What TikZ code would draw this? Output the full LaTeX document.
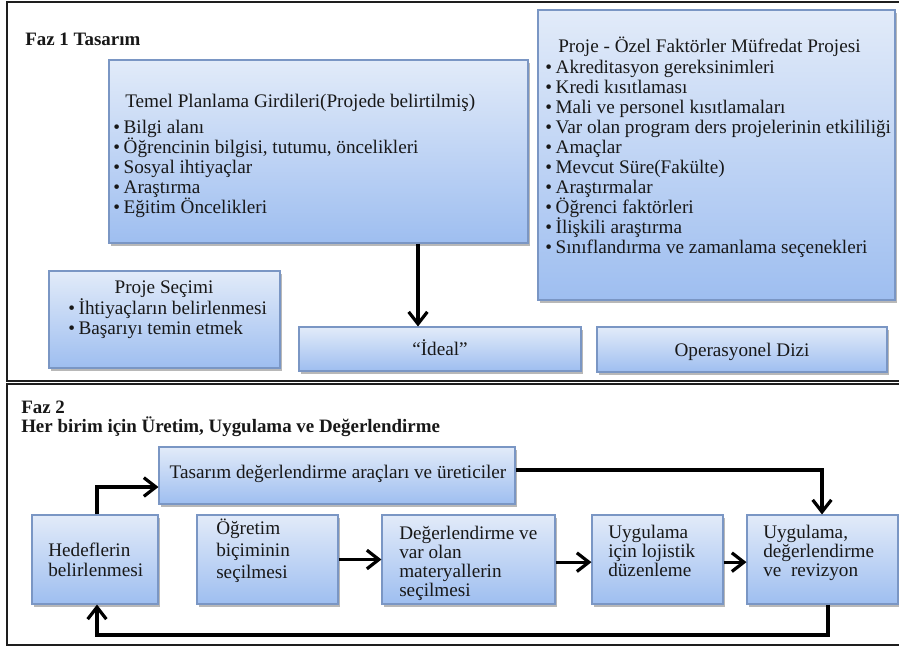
\documentclass[tikz,border=0pt]{standalone}
\usepackage{fontspec}
\setmainfont{Liberation Serif}
\usetikzlibrary{arrows.meta,fit,shadows}

\definecolor{boxtop}{RGB}{226,235,249}
\definecolor{boxbot}{RGB}{158,190,240}
\definecolor{boxline}{RGB}{122,150,196}
\definecolor{ink}{RGB}{24,24,24}
\definecolor{framec}{RGB}{30,30,30}

\newcommand\itembul{\makebox[7.8pt][l]{\textbullet}}

\tikzset{
  box/.style={draw=boxline, line width=0.8pt, top color=boxtop, bottom color=boxbot,
    inner sep=0pt, rectangle,
    drop shadow={shadow xshift=1.6pt, shadow yshift=-2.2pt, fill=black, opacity=0.28}},
  txt/.style={anchor=base west, inner sep=0pt, text=ink,
    font=\fontsize{14.4}{15}\selectfont},
  ctxt/.style={txt, anchor=base},
  ttl/.style={txt, font=\fontsize{14.2}{15}\selectfont\bfseries},
  arr/.style={draw=black, line width=2.4pt, line join=miter,
    -{Straight Barb[length=9pt,width=14pt]}},
  frame/.style={draw=framec, line width=1.5pt}
}

\begin{document}
\begin{tikzpicture}[x=0.75pt,y=-0.75pt]
\useasboundingbox (0,0) rectangle (899,650);
\fill[white] (0,0) rectangle (899,650);

% the two phase frames (open on the right)
\begin{scope}
  \clip (0,0) rectangle (899,650);
  \draw[frame] (7,2) rectangle (930,380.5);
  \draw[frame] (7,384) rectangle (930,645);
\end{scope}

% ---------------- Phase 1 ----------------
\node[ttl] (faz1) at (25,45) {Faz 1 Tasarım};

\node[box, fit={(109,60) (528,243)}] (temel) {};
\node[txt] (temelT) at (125,107) {Temel Planlama Girdileri(Projede belirtilmiş)};
\node[txt] (temel1) at (113,133) {\itembul Bilgi alanı};
\node[txt] (temel2) at (113,153) {\itembul Öğrencinin bilgisi, tutumu, öncelikleri};
\node[txt] (temel3) at (113,173) {\itembul Sosyal ihtiyaçlar};
\node[txt] (temel4) at (113,193) {\itembul Araştırma};
\node[txt] (temel5) at (113,213) {\itembul Eğitim Öncelikleri};

\node[box, fit={(538,10) (895,300)}] (ozel) {};
\node[txt] (ozelT) at (558,52) {Proje - Özel Faktörler Müfredat Projesi};
\node[txt] (ozel1) at (545,73) {\itembul Akreditasyon gereksinimleri};
\node[txt] (ozel2) at (545,93) {\itembul Kredi kısıtlaması};
\node[txt] (ozel3) at (545,113) {\itembul Mali ve personel kısıtlamaları};
\node[txt] (ozel4) at (545,133) {\itembul Var olan program ders projelerinin etkililiği};
\node[txt] (ozel5) at (545,153) {\itembul Amaçlar};
\node[txt] (ozel6) at (545,173) {\itembul Mevcut Süre(Fakülte)};
\node[txt] (ozel7) at (545,193) {\itembul Araştırmalar};
\node[txt] (ozel8) at (545,213) {\itembul Öğrenci faktörleri};
\node[txt] (ozel9) at (545,233) {\itembul İlişkili araştırma};
\node[txt] (ozel10) at (545,253) {\itembul Sınıflandırma ve zamanlama seçenekleri};

\node[box, fit={(49,271) (280,368)}] (secim) {};
\node[ctxt] (secimT) at (164,293) {Proje Seçimi};
\node[txt] (secim1) at (68,314) {\itembul İhtiyaçların belirlenmesi};
\node[txt] (secim2) at (68,334) {\itembul Başarıyı temin etmek};

\node[box, fit={(299,327) (581,371)}] (ideal) {};
\node[ctxt] (idealT) at (440,355) {“İdeal”};

\node[box, fit={(597,327) (887,372)}] (opdizi) {};
\node[ctxt] (opdiziT) at (742,356) {Operasyonel Dizi};

\coordinate (colA) at (418,0);
\draw[arr] (temel.south -| colA) -- (ideal.north -| colA);

% ---------------- Phase 2 ----------------
\node[ttl] (faz2) at (21,413) {Faz 2};
\node[ttl] (faz2b) at (21,432) {Her birim için Üretim, Uygulama ve Değerlendirme};

\node[box, fit={(159,447) (515,504)}] (tas) {};
\node[ctxt] (tasT) at (338,478) {Tasarım değerlendirme araçları ve üreticiler};

\node[box, fit={(32,515) (158,604)}] (hed) {};
\node[txt] (hed1) at (48,556) {Hedeflerin};
\node[txt] (hed2) at (48,576) {belirlenmesi};

\node[box, fit={(197,515) (338,604)}] (ogr) {};
\node[txt] (ogr1) at (216,534) {Öğretim};
\node[txt] (ogr2) at (216,556) {biçiminin};
\node[txt] (ogr3) at (216,578) {seçilmesi};

\node[box, fit={(382,515) (555,604)}] (deg) {};
\node[txt] (deg1) at (399,539) {Değerlendirme ve};
\node[txt] (deg2) at (399,558) {var olan};
\node[txt] (deg3) at (399,577) {materyallerin};
\node[txt] (deg4) at (399,596) {seçilmesi};

\node[box, fit={(592,515) (723,604)}] (lojis) {};
\node[txt] (lojis1) at (608,538) {Uygulama};
\node[txt] (lojis2) at (608,557) {için lojistik};
\node[txt] (lojis3) at (608,576) {düzenleme};

\node[box, fit={(747,515) (898,604)}] (revz) {};
\node[txt] (revz1) at (763,538) {Uygulama,};
\node[txt] (revz2) at (763,557) {değerlendirme};
\node[txt] (revz3) at (763,576) {ve\ \ revizyon};

% connectors
\coordinate (hj) at (97,487);
\coordinate (tj) at (822,470);
\coordinate (lj) at (828,635);

\draw[arr] (hed.north -| hj) |- (tas.west |- hj);
\draw[arr] (tas.east |- tj) -| (revz.north -| tj);
\draw[arr] (ogr.east) -- (deg.west);
\draw[arr] ([yshift=-2pt]deg.east) -- ([yshift=-2pt]lojis.west);
\draw[arr] ([yshift=-2pt]lojis.east) -- ([yshift=-2pt]revz.west);
\draw[arr] (revz.south -| lj) -- (lj) -| (hed.south -| hj);
\end{tikzpicture}
\end{document}
